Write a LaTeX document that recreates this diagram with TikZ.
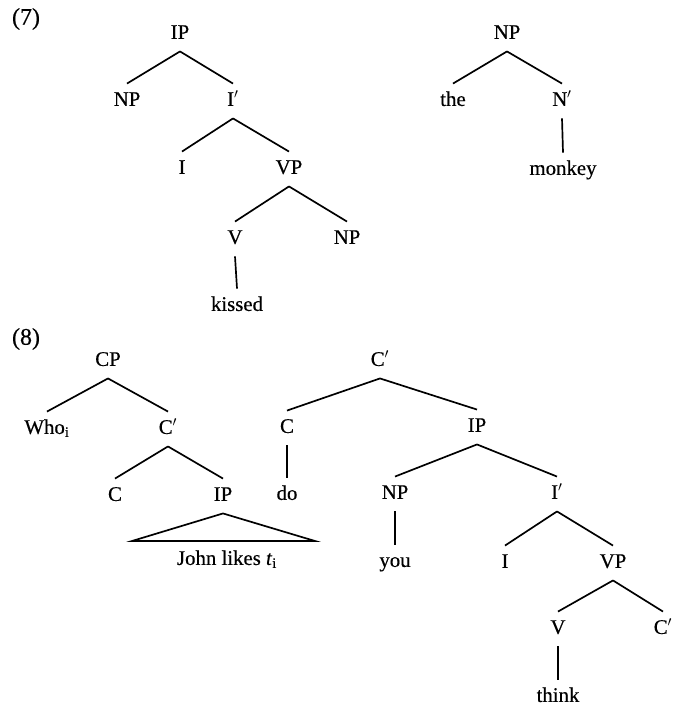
\documentclass[tikz,border=0pt]{standalone}
\usepackage{fontspec}
\setmainfont[UprightFeatures={FakeBold=0.4}, ItalicFeatures={FakeBold=0.4}]{Liberation Serif}
\usepackage{tikz}
\usetikzlibrary{positioning}

\tikzset{
  cat/.style={font=\fontsize{14.8}{17}\selectfont, text height=10pt, text depth=3pt, inner xsep=1pt, inner ysep=5.7pt},
  ex/.style={font=\fontsize{17}{19}\selectfont, inner sep=0pt},
  branch/.style={line width=1.2pt}
}

\begin{document}
\begin{tikzpicture}[x=0.025cm, y=-0.025cm]
  \useasboundingbox (0,0) rectangle (680,707);

  \node[ex] (ex7) at (26,19) {(7)};
  \node[cat] (ipa) at (180,34) {IP};
  \node[cat] (npa) at (127,101) {NP};
  \node[cat] (ibara) at (233,101) {I$'$};
  \node[cat] (ia) at (182,169) {I};
  \node[cat] (vpa) at (289,169) {VP};
  \node[cat] (va) at (235,239) {V};
  \node[cat] (npb) at (347,239) {NP};
  \node[cat] (kissed) at (237,306) {kissed};
  \draw[branch] (ipa.south) -- (npa.north);
  \draw[branch] (ipa.south) -- (ibara.north);
  \draw[branch] (ibara.south) -- (ia.north);
  \draw[branch] (ibara.south) -- (vpa.north);
  \draw[branch] (vpa.south) -- (va.north);
  \draw[branch] (vpa.south) -- (npb.north);
  \draw[branch] (va.south) -- (kissed.north);

  \node[cat] (npc) at (507,34) {NP};
  \node[cat] (the) at (453,101) {the};
  \node[cat] (nbar) at (562,101) {N$'$};
  \node[cat] (monkey) at (563,170) {monkey};
  \draw[branch] (npc.south) -- (the.north);
  \draw[branch] (npc.south) -- (nbar.north);
  \draw[branch] (nbar.south) -- (monkey.north);

  \node[ex] (ex8) at (26,339) {(8)};
  \node[cat] (cp) at (108,361) {CP};
  \node[cat] (who) at (47,429) {Who\textsubscript{i}};
  \node[cat] (cbara) at (168,429) {C$'$};
  \node[cat] (ca) at (115,496) {C};
  \node[cat] (ipb) at (223,496) {IP};
  \node[cat] (john) at (227,560) {John likes \textit{t}\textsubscript{i}};
  \coordinate (jl) at (132,541);
  \coordinate (jr) at (315,541);
  \draw[branch] (cp.south) -- (who.north);
  \draw[branch] (cp.south) -- (cbara.north);
  \draw[branch] (cbara.south) -- (ca.north);
  \draw[branch] (cbara.south) -- (ipb.north);
  \draw[branch, line join=miter] (ipb.south) -- (jl) -- (jr) -- cycle;

  \node[cat] (cbarb) at (380,361) {C$'$};
  \node[cat] (cb) at (287,428) {C};
  \node[cat] (do) at (287,495) {do};
  \node[cat] (ipc) at (477,427) {IP};
  \node[cat] (npd) at (395,494) {NP};
  \node[cat] (ibarb) at (557,494) {I$'$};
  \node[cat] (you) at (395,562) {you};
  \node[cat] (ib) at (505,563) {I};
  \node[cat] (vpb) at (613,563) {VP};
  \node[cat] (vb) at (558,629) {V};
  \node[cat] (cbarc) at (663,629) {C$'$};
  \node[cat] (think) at (558,697) {think};
  \draw[branch] (cbarb.south) -- (cb.north);
  \draw[branch] (cbarb.south) -- (ipc.north);
  \draw[branch] (cb.south) -- (do.north);
  \draw[branch] (ipc.south) -- (npd.north);
  \draw[branch] (ipc.south) -- (ibarb.north);
  \draw[branch] (npd.south) -- (you.north);
  \draw[branch] (ibarb.south) -- (ib.north);
  \draw[branch] (ibarb.south) -- (vpb.north);
  \draw[branch] (vpb.south) -- (vb.north);
  \draw[branch] (vpb.south) -- (cbarc.north);
  \draw[branch] (vb.south) -- (think.north);
\end{tikzpicture}
\end{document}
